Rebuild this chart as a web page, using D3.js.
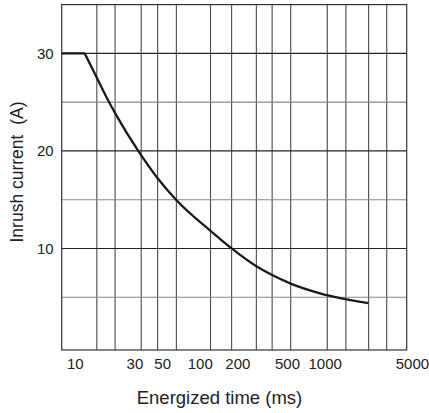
<!DOCTYPE html>
<html>
<head>
<meta charset="utf-8">
<script src="https://cdn.jsdelivr.net/npm/d3@7"></script>
<style>
  body { margin: 0; background: #fff; }
</style>
</head>
<body>
<div id="chart"></div>
<script>
// data
const timeMs = [7.85, 12, 15, 18.1, 21.4, 32.2, 46, 64.6, 122, 180, 282, 377, 535, 919, 2240];
const currentA = [30, 30, 27.5, 25.4, 23.7, 20, 17.2, 15, 11.8, 10, 8.2, 7.3, 6.4, 5.4, 4.4];
const gridX = [15, 21, 34, 46, 65, 122, 180, 284, 380, 535, 1050, 1480, 2250, 3140];
const gridY = [5, 10, 15, 20, 25, 30];
const tickX = [10, 30, 50, 100, 200, 500, 1000, 5000];
const tickY = [10, 20, 30];

const width = 429;
const height = 413;
const plot = { left: 61.7, right: 406.7, top: 4.6, bottom: 350 };

const svg = d3.select("#chart")
  .append("svg")
  .attr("width", width)
  .attr("height", height)
  .attr("viewBox", [0, 0, width, height])
  .style("font-family", "'Liberation Sans', Arial, sans-serif");

const x = d3.scaleLog().domain([7.85, 4540]).range([plot.left, plot.right]);
const y = d3.scaleLinear().domain([0, 35]).range([346, plot.top]);

// vertical grid
svg.append("g")
  .selectAll("line")
  .data(gridX)
  .enter()
  .append("line")
  .attr("x1", d => x(d))
  .attr("x2", d => x(d))
  .attr("y1", plot.top)
  .attr("y2", plot.bottom)
  .attr("stroke", "#4a4a4a")
  .attr("stroke-width", 1.1);

// horizontal grid
svg.append("g")
  .selectAll("line")
  .data(gridY)
  .enter()
  .append("line")
  .attr("x1", plot.left)
  .attr("x2", plot.right)
  .attr("y1", d => y(d))
  .attr("y2", d => y(d))
  .attr("stroke", d => (d % 10 === 0 ? "#222" : "#888"))
  .attr("stroke-width", 1.1);

// frame
svg.append("rect")
  .attr("x", plot.left)
  .attr("y", plot.top)
  .attr("width", plot.right - plot.left)
  .attr("height", plot.bottom - plot.top)
  .attr("fill", "none")
  .attr("stroke", "#333")
  .attr("stroke-width", 1.2);

// curve: flat part straight, the rest smooth
const pts = timeMs.map((t, i) => [t, currentA[i]]);
const flat = d3.line().x(d => x(d[0])).y(d => y(d[1]));
const smooth = d3.line().x(d => x(d[0])).y(d => y(d[1])).curve(d3.curveMonotoneX);

svg.append("path")
  .attr("d", flat(pts.slice(0, 2)))
  .attr("fill", "none")
  .attr("stroke", "#1a1a1a")
  .attr("stroke-width", 2.3);

svg.append("path")
  .attr("d", smooth(pts.slice(1)))
  .attr("fill", "none")
  .attr("stroke", "#1a1a1a")
  .attr("stroke-width", 2.3)
  .attr("stroke-linejoin", "round");

// x axis labels
const xAxis = svg.append("g")
  .attr("transform", "translate(0," + plot.bottom + ")")
  .call(d3.axisBottom(x).tickValues(tickX).tickFormat(d3.format("d")).tickSize(0).tickPadding(8));
xAxis.select(".domain").remove();
xAxis.selectAll("text")
  .attr("font-size", 15)
  .attr("font-family", "'Liberation Sans', Arial, sans-serif")
  .attr("fill", "#222");

// y axis labels
const yAxis = svg.append("g")
  .attr("transform", "translate(" + plot.left + ",0)")
  .call(d3.axisLeft(y).tickValues(tickY).tickSize(0).tickPadding(8));
yAxis.select(".domain").remove();
yAxis.selectAll("text")
  .attr("font-size", 15)
  .attr("font-family", "'Liberation Sans', Arial, sans-serif")
  .attr("fill", "#222");

// titles
svg.append("text")
  .attr("x", 219.5)
  .attr("y", 404)
  .attr("text-anchor", "middle")
  .attr("font-size", 18.5)
  .attr("fill", "#222")
  .text("Energized time (ms)");

svg.append("text")
  .attr("transform", "translate(23,172) rotate(-90)")
  .attr("text-anchor", "middle")
  .attr("font-size", 17.5)
  .attr("fill", "#222")
  .style("white-space", "pre")
  .text("Inrush current  (A)");
</script>
</body>
</html>
